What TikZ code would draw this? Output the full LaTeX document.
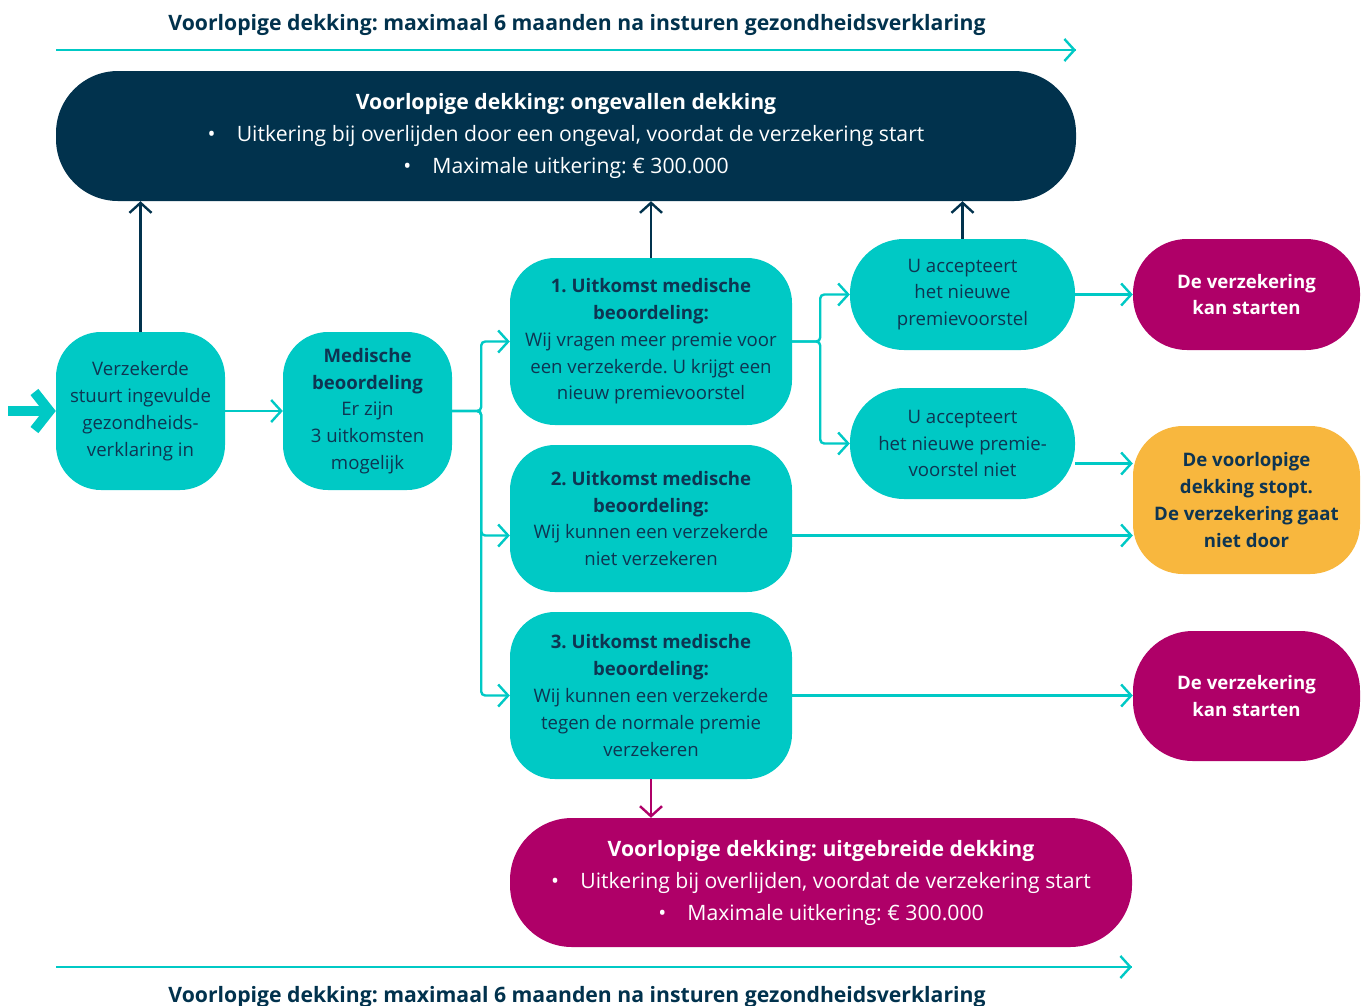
\documentclass[tikz,border=0pt]{standalone}
\usepackage{fontspec}
\setmainfont{Open Sans}
\usetikzlibrary{arrows.meta}
\frenchspacing

\definecolor{tealc}{HTML}{00C9C5}
\definecolor{navyc}{HTML}{01324D}
\definecolor{magc}{HTML}{AF0068}
\definecolor{orngc}{HTML}{F8B73E}
\definecolor{txtc}{HTML}{0E3552}

\newcommand\bodyfont{\fontsize{18.6}{26.8}\selectfont}
\newcommand\bigfont{\fontsize{21.2}{32}\selectfont}

\tikzset{
  tealbox/.style={rounded corners=45pt, fill=tealc, text=txtc, align=center, inner sep=0pt, font=\bodyfont},
  pillbox/.style={tealbox, rounded corners=54pt},
  endbox/.style={rounded corners=54pt, fill=magc, text=white, align=center, inner sep=0pt, font=\bodyfont\bfseries,
    minimum width=227pt, minimum height=111pt},
  bigbox/.style={rounded corners=62pt, text=white, align=center, inner sep=0pt, font=\bigfont},
  flow/.style={draw=tealc, line width=2.4pt, rounded corners=4pt, -{Straight Barb[length=10pt,width=22pt]}},
  uparrow/.style={draw=navyc, line width=2.4pt, -{Straight Barb[length=10pt,width=22pt]}},
  period/.style={text=navyc, font=\bigfont\bfseries}
}

\begin{document}
\begin{tikzpicture}[x=1pt,y=-1pt]
  \useasboundingbox (0,0) rectangle (1362,1005);

  % time span
  \node[period] (toplabel) at (577,25) {Voorlopige dekking: maximaal 6 maanden na insturen gezondheidsverklaring};
  \node[period] (botlabel) at (577,997) {Voorlopige dekking: maximaal 6 maanden na insturen gezondheidsverklaring};
  \coordinate (t0) at (56,50);
  \coordinate (t1) at (1076,50);
  \coordinate (b0) at (56,967);
  \coordinate (b1) at (1132,967);

  % cover boxes
  \node[bigbox, fill=navyc, minimum width=1020pt, minimum height=130pt] (navy) at (566,136)
    {\textbf{Voorlopige dekking: ongevallen dekking}\\
     •\hspace{1em}Uitkering bij overlijden door een ongeval, voordat de verzekering start\\
     •\hspace{1em}Maximale uitkering: € 300.000};
  \node[bigbox, fill=magc, minimum width=622pt, minimum height=129pt] (ext) at (821,882.5)
    {\textbf{Voorlopige dekking: uitgebreide dekking}\\
     •\hspace{1em}Uitkering bij overlijden, voordat de verzekering start\\
     •\hspace{1em}Maximale uitkering: € 300.000};

  % steps
  \node[tealbox, minimum width=169pt, minimum height=158pt] (verz) at (140.5,411)
    {Verzekerde\\stuurt ingevulde\\gezondheids-\\verklaring in};
  \node[tealbox, minimum width=169pt, minimum height=158pt] (med) at (367.5,411)
    {\textbf{Medische}\\\textbf{beoordeling}\\Er zijn\\3 uitkomsten\\mogelijk};
  \node[tealbox, minimum width=282pt, minimum height=167pt] (u1) at (651,341.5)
    {\textbf{1. Uitkomst medische}\\\textbf{beoordeling:}\\Wij vragen meer premie voor\\een verzekerde. U krijgt een\\nieuw premievoorstel};
  \node[tealbox, minimum width=282pt, minimum height=147pt] (u2) at (651,518.5)
    {\textbf{2. Uitkomst medische}\\\textbf{beoordeling:}\\Wij kunnen een verzekerde\\niet verzekeren};
  \node[tealbox, minimum width=282pt, minimum height=167pt] (u3) at (651,695.5)
    {\textbf{3. Uitkomst medische}\\\textbf{beoordeling:}\\Wij kunnen een verzekerde\\tegen de normale premie\\verzekeren};
  \node[pillbox, minimum width=225pt, minimum height=111pt] (acc1) at (962.5,294.5)
    {U accepteert\\het nieuwe\\premievoorstel};
  \node[pillbox, minimum width=225pt, minimum height=111pt] (acc2) at (962.5,443.5)
    {U accepteert\\het nieuwe premie-\\voorstel niet};

  % outcomes
  \node[endbox] (start1) at (1246.5,294.5) {De verzekering\\kan starten};
  \node[endbox, fill=orngc, text=txtc, minimum height=148pt, rounded corners=50pt] (stop) at (1246.5,500)
    {De voorlopige\\dekking stopt.\\De verzekering gaat\\niet door};
  \node[endbox, minimum height=130pt, rounded corners=60pt] (start2) at (1246.5,696) {De verzekering\\kan starten};

  % entry arrow
  \coordinate (in) at (8,411);
  \draw[draw=tealc, line width=10pt, -{Straight Barb[length=15pt,width=38pt]}] (in) -- (verz.west);

  % connectors
  \draw[flow, -] (t0) -- (t1);
  \draw[flow] ([xshift=-1pt]t1) -- (t1);
  \draw[flow, -] (b0) -- (b1);
  \draw[flow] ([xshift=-1pt]b1) -- (b1);

  \foreach \from/\to in {verz/med, acc1/start1, u3/start2}
    \draw[flow] (\from.east) -- (\from.east -| \to.west);

  \coordinate (u2in) at ([yshift=-17pt]u2.west);
  \coordinate (u2out) at ([yshift=-17pt]u2.east);
  \coordinate (acc2out) at ([yshift=-20pt]acc2.east);

  \draw[flow] (med.east) -- ++(29,0) |- (u1.west);
  \draw[flow] (med.east) -- ++(29,0) |- (u2in);
  \draw[flow] (med.east) -- ++(29,0) |- (u3.west);
  \draw[flow] (u1.east) -- ++(28,0) |- (acc1.west);
  \draw[flow] (u1.east) -- ++(28,0) |- (acc2.west);
  \draw[flow] (acc2out) -- (acc2out -| stop.west);
  \draw[flow] (u2out) -- (u2out -| stop.west);

  \foreach \n in {verz, u1, acc1}
    \draw[uparrow] (\n.north) -- (\n.north |- navy.south);
  \draw[uparrow, draw=magc] (u3.south) -- (u3.south |- ext.north);

\end{tikzpicture}
\end{document}
